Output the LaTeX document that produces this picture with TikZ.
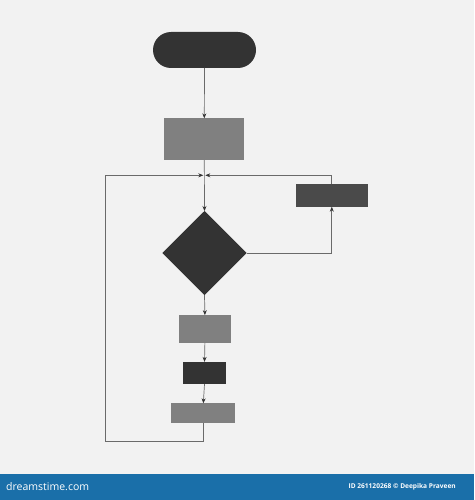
\documentclass[tikz,border=0pt]{standalone}
\usepackage{fontspec}
\setmainfont{Open Sans}
\usetikzlibrary{shapes.geometric,arrows.meta}
\definecolor{bg}{HTML}{F2F2F2}
\definecolor{darkbox}{HTML}{333333}
\definecolor{midbox}{HTML}{4A4A4A}
\definecolor{graybox}{HTML}{808080}
\definecolor{linec}{HTML}{6A6A6A}
\definecolor{barblue}{HTML}{1A6FA9}
\tikzset{
  blk/.style={draw=none,inner sep=0pt,outer sep=0pt},
  rectbox/.style={blk,rectangle},
  conn/.style={draw=linec,line width=0.7pt},
  arr/.style={conn,-{Stealth[length=5pt,width=4pt,color=darkbox]}},
  bartext/.style={text=white,inner sep=0pt,anchor=west}
}
\begin{document}
\begin{tikzpicture}[x=1pt,y=-1pt]
\fill[bg] (0,0) rectangle (474,500);
\useasboundingbox (0,0) rectangle (474,500);
% nodes
\node[rectbox,fill=darkbox,minimum width=103pt,minimum height=36pt,rounded corners=18pt] (term) at (204.5,50) {};
\node[rectbox,fill=graybox,minimum width=80pt,minimum height=41.7pt] (p1) at (204.3,139.2) {};
\node[blk,diamond,fill=darkbox,minimum width=84.4pt,minimum height=84pt] (dec) at (204.5,253) {};
\node[rectbox,fill=midbox,minimum width=72.3pt,minimum height=22.4pt] (rb) at (331.8,195.5) {};
\node[rectbox,fill=graybox,minimum width=52.3pt,minimum height=27.7pt] (p2) at (204.9,329) {};
\node[rectbox,fill=darkbox,minimum width=43.6pt,minimum height=22.3pt] (b3) at (204.5,373) {};
\node[rectbox,fill=graybox,minimum width=64pt,minimum height=19.4pt] (b4) at (203.3,413) {};
\coordinate (j) at (204.3,175.3);
\coordinate (jl) at (203.3,175.3);
\coordinate (jr) at (205.3,175.3);
\coordinate (lb) at (105.7,441.7);
\coordinate (rc) at (331.8,253);
% connectors
\draw[arr] (term.south) -- (p1.north);
\draw[arr] (p1.south) -- (dec.north);
\draw[arr] (dec.east) -- (rc) -- (rb.south);
\draw[arr] (rb.north) |- (jr);
\draw[arr] (b4.south) |- (lb) |- (jl);
\draw[arr] (dec.south) -- (p2.north);
\draw[arr] (p2.south) -- (b3.north);
\draw[arr] (b3.south) -- (b4.north);
% bottom bar
\fill[barblue] (0,473.5) rectangle (474,500);
\node[bartext,font=\fontsize{10.5}{12}\selectfont] (brand) at (6,487) {dreamstime.com};
\node[bartext,anchor=east,font=\bfseries\fontsize{6.6}{8}\selectfont] (credit) at (456,487) {ID 261120268 © Deepika Praveen};
\end{tikzpicture}
\end{document}
